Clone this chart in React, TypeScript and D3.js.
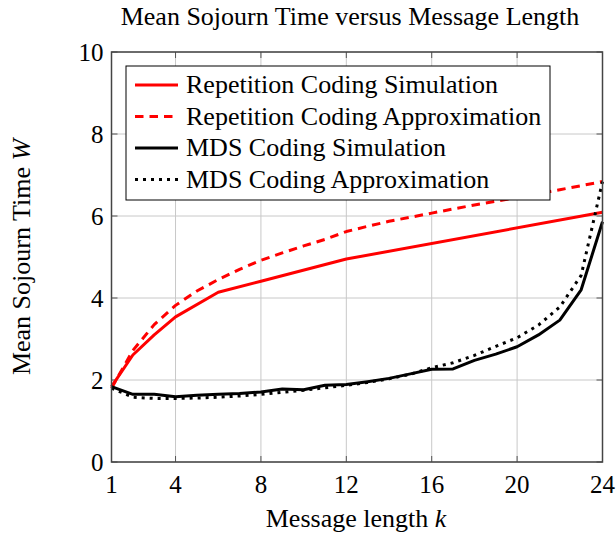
import React, { useEffect, useRef } from 'react';
import * as d3 from 'd3';

const ks = d3.range(1, 25);
const repK = [1, 2, 3, 4, 6, 8, 12, 24];
const repSim = [1.84, 2.61, 3.1, 3.54, 4.14, 4.41, 4.95, 6.09];
const repApprox = [
  1.8, 2.72, 3.35, 3.82, 4.17, 4.45, 4.7, 4.92, 5.1, 5.27, 5.43, 5.62,
  5.75, 5.87, 5.97, 6.07, 6.17, 6.27, 6.36, 6.45, 6.55, 6.64, 6.74, 6.84,
];
const mdsSim = [
  1.84, 1.65, 1.65, 1.59, 1.63, 1.65, 1.67, 1.71, 1.78, 1.76, 1.87, 1.89,
  1.96, 2.04, 2.15, 2.26, 2.27, 2.48, 2.63, 2.81, 3.1, 3.46, 4.2, 5.86,
];
const mdsApprox = [
  1.8, 1.58, 1.55, 1.55, 1.56, 1.58, 1.61, 1.65, 1.7, 1.75, 1.81, 1.87,
  1.94, 2.03, 2.14, 2.3, 2.42, 2.6, 2.82, 3.03, 3.34, 3.78, 4.55, 6.84,
];
const xTicks = [1, 4, 8, 12, 16, 20, 24];
const yTicks = [0, 2, 4, 6, 8, 10];

const series = [
  { name: 'Repetition Coding Simulation', x: repK, y: repSim, color: '#ff0000', dash: null },
  { name: 'Repetition Coding Approximation', x: ks, y: repApprox, color: '#ff0000', dash: '8.5,6' },
  { name: 'MDS Coding Simulation', x: ks, y: mdsSim, color: '#000000', dash: null },
  { name: 'MDS Coding Approximation', x: ks, y: mdsApprox, color: '#000000', dash: '3,5' },
];

export default function App() {
  const ref = useRef<SVGSVGElement>(null);

  useEffect(() => {
    const svg = d3.select(ref.current);
    svg.selectAll('*').remove();
    const font = '"Liberation Serif", "Times New Roman", serif';

    const left = 111.5;
    const right = 602.5;
    const top = 52;
    const bottom = 462;

    const x = d3.scaleLinear().domain([1, 24]).range([left, right]);
    const y = d3.scaleLinear().domain([0, 10]).range([bottom, top]);

    // grid
    const grid = svg.append('g').attr('stroke', '#c8c8c8').attr('stroke-width', 1);
    xTicks.forEach(t => {
      grid.append('line').attr('x1', x(t)).attr('x2', x(t)).attr('y1', top).attr('y2', bottom);
    });
    yTicks.forEach(t => {
      grid.append('line').attr('x1', left).attr('x2', right).attr('y1', y(t)).attr('y2', y(t));
    });

    // tick marks (inside, both sides)
    const ticks = svg.append('g').attr('stroke', '#555').attr('stroke-width', 1);
    xTicks.forEach(t => {
      ticks.append('line').attr('x1', x(t)).attr('x2', x(t)).attr('y1', bottom).attr('y2', bottom - 6);
      ticks.append('line').attr('x1', x(t)).attr('x2', x(t)).attr('y1', top).attr('y2', top + 6);
    });
    yTicks.forEach(t => {
      ticks.append('line').attr('x1', left).attr('x2', left + 6).attr('y1', y(t)).attr('y2', y(t));
      ticks.append('line').attr('x1', right).attr('x2', right - 6).attr('y1', y(t)).attr('y2', y(t));
    });

    // lines
    series.forEach(s => {
      const line = d3
        .line<number>()
        .x((d, i) => x(s.x[i]))
        .y(d => y(d));
      const p = svg
        .append('path')
        .attr('fill', 'none')
        .attr('stroke', s.color)
        .attr('stroke-width', 3)
        .attr('stroke-linejoin', 'round')
        .attr('d', line(s.y));
      if (s.dash) p.attr('stroke-dasharray', s.dash);
    });

    // axis box
    svg
      .append('rect')
      .attr('x', left)
      .attr('y', top)
      .attr('width', right - left)
      .attr('height', bottom - top)
      .attr('fill', 'none')
      .attr('stroke', '#444')
      .attr('stroke-width', 1.5);

    // tick labels
    xTicks.forEach(t => {
      svg
        .append('text')
        .attr('x', x(t))
        .attr('y', bottom + 31)
        .attr('text-anchor', 'middle')
        .style('font-family', font)
        .style('font-size', '25px')
        .text(t);
    });
    yTicks.forEach(t => {
      svg
        .append('text')
        .attr('x', left - 8)
        .attr('y', y(t) + 9)
        .attr('text-anchor', 'end')
        .style('font-family', font)
        .style('font-size', '25px')
        .text(t);
    });

    // title
    svg
      .append('text')
      .attr('x', 350)
      .attr('y', 25)
      .attr('text-anchor', 'middle')
      .style('font-family', font)
      .style('font-size', '26px')
      .text('Mean Sojourn Time versus Message Length');

    // x label
    const xl = svg
      .append('text')
      .attr('x', 356)
      .attr('y', 527)
      .attr('text-anchor', 'middle')
      .style('font-family', font)
      .style('font-size', '26px');
    xl.append('tspan').text('Message length ');
    xl.append('tspan').style('font-style', 'italic').text('k');

    // y label
    const yl = svg
      .append('text')
      .attr('transform', `translate(30, ${(top + bottom) / 2}) rotate(-90)`)
      .attr('text-anchor', 'middle')
      .style('font-family', font)
      .style('font-size', '26px');
    yl.append('tspan').text('Mean Sojourn Time ');
    yl.append('tspan').style('font-style', 'italic').text('W');

    // legend
    const lg = svg.append('g');
    lg.append('rect')
      .attr('x', 126)
      .attr('y', 66)
      .attr('width', 424)
      .attr('height', 134)
      .attr('fill', '#fff')
      .attr('stroke', '#000')
      .attr('stroke-width', 1);
    series.forEach((s, i) => {
      const yy = 85 + i * 31.5;
      const l = lg
        .append('line')
        .attr('x1', 135)
        .attr('x2', 178)
        .attr('y1', yy)
        .attr('y2', yy)
        .attr('stroke', s.color)
        .attr('stroke-width', 3);
      if (s.dash) l.attr('stroke-dasharray', s.dash);
      lg.append('text')
        .attr('x', 186)
        .attr('y', yy + 8)
        .style('font-family', font)
        .style('font-size', '26px')
        .text(s.name);
    });
  }, []);

  return (
    <svg
      ref={ref}
      width={616}
      height={534}
      style={{ display: 'block', position: 'absolute', top: 0, left: 0 }}
    />
  );
}
